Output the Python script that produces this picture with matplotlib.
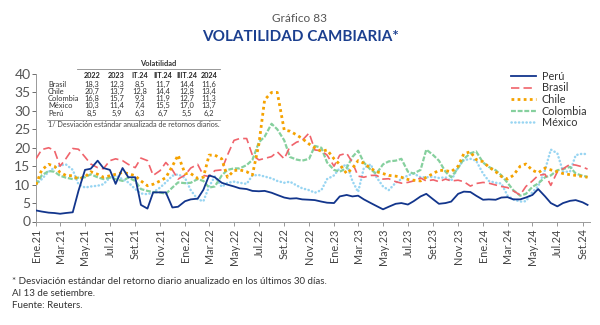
import matplotlib
matplotlib.use("Agg")
import matplotlib.pyplot as plt
import pandas as pd
import numpy as np

plt.rcParams['font.family'] = ['Lato', 'DejaVu Sans']

# fechas quincenales, ene-21 a 13-set-24
fechas = list(pd.date_range("2021-01-01", "2024-09-01", freq="SMS")) + [pd.Timestamp("2024-09-13")]

peru = [3.0, 2.7, 2.4, 2.3, 2.1, 2.3, 2.5, 8.3, 14.0, 14.3,
        16.5, 14.5, 14.0, 10.2, 14.5, 12.0, 12.0, 4.5, 3.5, 7.9,
        7.9, 7.9, 3.8, 4.0, 5.5, 6.0, 6.2, 8.6, 12.5, 12.0,
        10.5, 10.0, 9.5, 9.0, 8.8, 8.3, 8.2, 8.3, 7.8, 7.2,
        6.5, 6.2, 6.3, 6.0, 5.9, 5.8, 5.4, 5.1, 5.0, 6.8,
        7.2, 6.8, 7.0, 6.0, 5.0, 4.2, 3.3, 4.0, 4.8, 5.0,
        4.6, 5.5, 6.8, 7.5, 6.0, 4.8, 5.0, 5.4, 7.5, 8.1,
        8.0, 7.0, 5.9, 6.0, 5.9, 6.5, 6.6, 6.0, 6.0, 6.5,
        7.2, 8.8, 6.8, 5.0, 4.1, 5.0, 5.6, 5.8, 5.2, 4.5]

brasil = [17.0, 19.5, 20.0, 19.3, 15.0, 17.0, 19.8, 19.6, 17.5, 15.6,
          14.6, 14.3, 16.5, 17.0, 16.5, 15.5, 14.6, 17.2, 16.5, 12.5,
          13.8, 16.0, 14.0, 11.5, 12.6, 14.5, 15.5, 12.5, 12.2, 13.8,
          14.0, 18.0, 22.0, 22.5, 22.5, 18.0, 16.7, 17.1, 17.6, 18.9,
          17.0, 20.3, 21.5, 22.0, 24.0, 19.4, 19.2, 18.0, 15.0, 18.0,
          18.5, 16.0, 12.3, 12.0, 12.5, 12.5, 11.5, 11.6, 10.8, 10.4,
          10.6, 11.0, 11.8, 11.0, 11.3, 10.8, 11.5, 11.0, 11.2, 10.8,
          9.6, 10.3, 10.6, 10.4, 9.9, 9.5, 9.2, 8.3, 7.2, 9.5,
          11.0, 12.5, 12.8, 9.8, 13.5, 14.3, 15.5, 15.3, 14.8, 14.2]

chile = [10.0, 14.0, 15.5, 15.0, 13.3, 12.5, 12.4, 11.5, 12.1, 13.5,
         12.8, 12.0, 12.4, 12.8, 13.3, 13.0, 12.4, 11.0, 9.7, 10.1,
         11.0, 11.9, 15.0, 18.0, 13.0, 13.0, 11.7, 12.0, 18.0, 18.0,
         17.0, 12.0, 13.8, 14.0, 13.5, 12.6, 21.0, 33.0, 35.0, 35.0,
         24.8, 24.5, 23.5, 22.5, 21.0, 20.0, 19.0, 19.4, 17.0, 15.5,
         13.0, 14.4, 16.5, 15.8, 14.4, 13.5, 13.0, 12.5, 12.3, 12.0,
         11.4, 11.2, 11.0, 12.0, 13.0, 13.9, 13.8, 13.5, 15.0, 18.4,
         18.9, 16.8, 16.2, 14.8, 13.5, 12.2, 11.5, 12.5, 15.0, 15.6,
         13.9, 13.2, 14.5, 14.0, 13.5, 13.0, 12.7, 12.5, 12.2, 12.0]

colombia = [10.0, 12.5, 13.7, 13.5, 12.4, 11.9, 11.5, 11.9, 12.0, 12.8,
            12.0, 11.5, 11.9, 11.5, 11.0, 11.9, 11.0, 8.8, 8.3, 8.0,
            7.9, 7.5, 9.2, 10.6, 10.4, 10.5, 11.5, 11.0, 9.2, 9.5,
            12.5, 14.0, 14.4, 14.4, 15.3, 16.7, 21.5, 23.0, 26.5, 25.0,
            22.0, 17.5, 16.8, 16.5, 17.0, 20.5, 20.0, 16.0, 14.0, 13.5,
            14.5, 17.5, 19.2, 16.0, 14.0, 13.0, 15.5, 16.3, 16.5, 17.0,
            13.5, 13.0, 14.0, 19.5, 18.0, 16.5, 13.5, 12.0, 14.5, 17.0,
            18.5, 19.0, 16.0, 14.8, 13.9, 12.5, 10.5, 8.5, 7.0, 7.5,
            9.4, 10.3, 12.0, 12.5, 13.9, 14.2, 14.8, 13.0, 12.4, 12.1]

mexico = [10.0, 11.5, 13.5, 14.6, 15.2, 15.5, 14.0, 10.1, 9.2, 9.5,
          9.7, 10.1, 11.9, 12.4, 11.5, 10.6, 8.8, 7.6, 7.4, 7.9,
          9.2, 10.6, 12.4, 12.8, 11.8, 8.5, 6.0, 5.5, 9.5, 12.2,
          9.4, 10.5, 10.8, 10.5, 10.2, 12.5, 12.6, 12.2, 11.7, 11.0,
          10.5, 10.8, 9.8, 9.0, 8.5, 7.8, 8.5, 11.5, 12.5, 14.5,
          15.5, 11.0, 8.0, 14.5, 15.5, 12.0, 9.5, 8.5, 10.5, 11.5,
          12.5, 13.0, 12.0, 12.0, 12.1, 11.8, 12.0, 11.0, 14.8, 16.6,
          17.0, 16.5, 13.0, 11.0, 10.5, 10.3, 7.0, 6.0, 5.4, 5.5,
          8.0, 9.5, 14.0, 19.5, 18.5, 13.5, 13.5, 18.0, 18.4, 18.2]

tick_fechas = pd.date_range("2021-01-01", "2024-09-01", freq="2MS")
tick_labels = ["Ene.21", "Mar.21", "May.21", "Jul.21", "Set.21", "Nov.21",
               "Ene.22", "Mar.22", "May.22", "Jul.22", "Set.22", "Nov.22",
               "Ene.23", "Mar.23", "May.23", "Jul.23", "Set.23", "Nov.23",
               "Ene.24", "Mar.24", "May.24", "Jul.24", "Set.24"]

# tabla de volatilidad (1/)
tabla_cols = ["2022", "2023", "IT.24", "IIT.24", "IIIT.24", "2024"]
tabla_paises = ["Brasil", "Chile", "Colombia", "México", "Perú"]
tabla_brasil = [18.3, 12.3, 8.5, 11.7, 14.4, 11.6]
tabla_chile = [20.7, 13.7, 12.8, 14.4, 12.8, 13.4]
tabla_colombia = [16.8, 15.7, 9.3, 11.9, 12.7, 11.3]
tabla_mexico = [10.3, 11.4, 7.4, 15.5, 17.0, 13.7]
tabla_peru = [8.5, 5.9, 6.3, 6.7, 5.5, 6.2]

W, H = 600, 325
fig = plt.figure(figsize=(6, 3.25), dpi=100)
ax = fig.add_axes([36 / W, 1 - 221.5 / H, 554 / W, 147.5 / H])

ax.plot(fechas, peru, color="#12358C", lw=1.3, label="Perú", zorder=6)
ax.plot(fechas, brasil, color="#F0636B", lw=1.2, ls=(0, (5, 2.5)), label="Brasil", zorder=4)
ax.plot(fechas, chile, color="#F5A200", lw=2.0, ls=(0, (1, 1.2)), label="Chile", zorder=5)
ax.plot(fechas, colombia, color="#86D09E", lw=1.6, ls=(0, (2.2, 0.8)), label="Colombia", zorder=3)
ax.plot(fechas, mexico, color="#98D5F2", lw=1.8, ls=(0, (0.1, 1.4)),
        dash_capstyle="round", label="México", zorder=2)

ax.set_ylim(0, 40)
ax.set_yticks(range(0, 41, 5))
ax.set_xlim(pd.Timestamp("2021-01-01"), pd.Timestamp("2024-09-19"))
ax.set_xticks(tick_fechas)
ax.set_xticklabels(tick_labels, rotation=90, fontsize=7.8, color="#444444")
ax.tick_params(axis="y", labelsize=10, colors="#555555", length=3, width=0.6, pad=1)
ax.tick_params(axis="x", length=3, width=0.6, colors="#888888", labelcolor="#444444", pad=2)
for s in ["top", "right"]:
    ax.spines[s].set_visible(False)
for s in ["left", "bottom"]:
    ax.spines[s].set_color("#999999")
    ax.spines[s].set_linewidth(0.7)

leg = ax.legend(loc="upper left", bbox_to_anchor=(0.85, 1.05), frameon=False,
                fontsize=7.8, handlelength=2.3, labelspacing=0.05, handletextpad=0.5,
                borderaxespad=0)
for t in leg.get_texts():
    t.set_color("#333333")

# titulos
fig.text(0.5, 1 - 19 / H, "Gráfico 83", ha="center", va="center", fontsize=8.5, color="#555555")
fig.text(0.5, 1 - 37 / H, "VOLATILIDAD CAMBIARIA*", ha="center", va="center",
         fontsize=11, fontweight="bold", color="#1B3F8F")

# tabla
fs = 5.4
fig.text(158 / W, 1 - 64 / H, "Volatilidad", ha="center", va="center", fontsize=fs,
         fontweight="bold", color="#333333")
fig.add_artist(plt.Line2D([77 / W, 220 / W], [1 - 69 / H, 1 - 69 / H], color="#888888", lw=0.6))
fig.add_artist(plt.Line2D([47 / W, 220 / W], [1 - 120 / H, 1 - 120 / H], color="#888888", lw=0.6))
col_x = [92, 116.5, 140, 163, 186.5, 209]
for cx, c in zip(col_x, tabla_cols):
    fig.text(cx / W, 1 - 75 / H, c, ha="center", va="center", fontsize=fs - 0.2,
             fontweight="bold", color="#222222")
filas = [tabla_brasil, tabla_chile, tabla_colombia, tabla_mexico, tabla_peru]
for k, (pais, vals) in enumerate(zip(tabla_paises, filas)):
    y = 84 + k * 7.3
    fig.text(48 / W, 1 - y / H, pais, ha="left", va="center", fontsize=fs, color="#333333")
    for cx, v in zip(col_x, vals):
        fig.text(cx / W, 1 - y / H, f"{v:.1f}".replace(".", ","), ha="center", va="center",
                 fontsize=fs, color="#333333")
fig.text(48 / W, 1 - 124.5 / H, "1/ Desviación estándar anualizada de retornos diarios.",
         ha="left", va="center", fontsize=fs - 0.2, color="#444444")

# notas
notas = ["* Desviación estándar del retorno diario anualizado en los últimos 30 días.",
         "Al 13 de setiembre.",
         "Fuente: Reuters."]
for k, n in enumerate(notas):
    fig.text(12 / W, 1 - (282 + k * 12) / H, n, ha="left", va="center", fontsize=7, color="#333333")

fig.savefig("out.png", dpi=100)
